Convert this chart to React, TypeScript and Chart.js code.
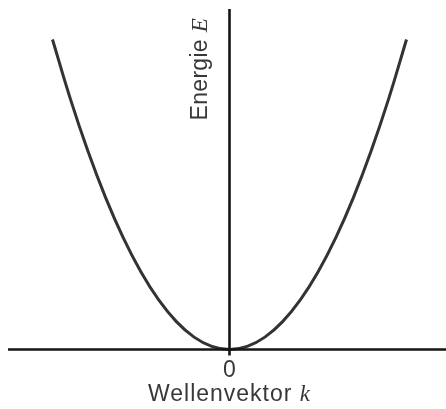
import React, { useEffect, useRef } from "react";
import { Chart, registerables } from "chart.js";

Chart.register(...registerables);

// Wave vector k and energy E along the dispersion curve
const waveVector = [-1.0, -0.9, -0.8, -0.7, -0.6, -0.5, -0.4, -0.3, -0.2, -0.1, 0.0, 0.1, 0.2, 0.3, 0.4, 0.5, 0.6, 0.7, 0.8, 0.9, 1.0];
const energy = [1.0, 0.81, 0.64, 0.49, 0.36, 0.25, 0.16, 0.09, 0.04, 0.01, 0.0, 0.01, 0.04, 0.09, 0.16, 0.25, 0.36, 0.49, 0.64, 0.81, 1.0];

const originTick = "0";
const xTitle = "Wellenvektor ";
const xSymbol = "k";
const yTitle = "Energie ";
const ySymbol = "E";

const X_MIN = -1.2514;
const X_MAX = 1.2232;
const Y_MIN = -0.1919;
const Y_MAX = 1.1016;

const SANS = "23px 'Liberation Sans', Arial, sans-serif";
const SYMBOL = "italic 23px 'Liberation Serif', 'Times New Roman', serif";

const axesPlugin = {
  id: "originAxes",
  afterDatasetsDraw(chart: any) {
    const { ctx, chartArea, scales } = chart;
    const ox = scales.x.getPixelForValue(0);
    const oy = scales.y.getPixelForValue(0);
    ctx.save();
    ctx.strokeStyle = "#151515";
    ctx.lineWidth = 2.6;
    ctx.lineCap = "butt";
    ctx.beginPath();
    ctx.moveTo(chartArea.left, oy);
    ctx.lineTo(chart.width, oy);
    ctx.moveTo(ox, chartArea.top + 1);
    ctx.lineTo(ox, oy + 6);
    ctx.stroke();

    ctx.fillStyle = "#383838";
    ctx.textBaseline = "alphabetic";

    // tick label at the origin
    ctx.font = SANS;
    ctx.textAlign = "center";
    ctx.fillText(originTick, ox, oy + 27);

    // horizontal axis title, centred under the origin
    (ctx as any).letterSpacing = "1px";
    ctx.textAlign = "left";
    ctx.font = SANS;
    const w1 = ctx.measureText(xTitle).width;
    ctx.font = SYMBOL;
    const w2 = ctx.measureText(xSymbol).width;
    const sx = ox - (w1 + w2) / 2;
    ctx.font = SANS;
    ctx.fillText(xTitle, sx, oy + 51);
    ctx.font = SYMBOL;
    ctx.fillText(xSymbol, sx + w1, oy + 51);
    (ctx as any).letterSpacing = "0.3px";

    // vertical axis title, rotated, at the top left of the axis
    ctx.translate(ox - 22, chartArea.top + 10);
    ctx.rotate(-Math.PI / 2);
    ctx.font = SANS;
    const v1 = ctx.measureText(yTitle).width;
    ctx.font = SYMBOL;
    const v2 = ctx.measureText(ySymbol).width;
    const start = -(v1 + v2);
    ctx.font = SANS;
    ctx.fillText(yTitle, start, 0);
    ctx.font = SYMBOL;
    ctx.fillText(ySymbol, start + v1, 0);
    ctx.restore();
  },
};

export default function App() {
  const ref = useRef<HTMLCanvasElement | null>(null);

  useEffect(() => {
    document.body.style.overflow = "hidden";
    const canvas = ref.current;
    if (!canvas) return;
    const chart = new Chart(canvas, {
      type: "line",
      data: {
        datasets: [
          {
            data: waveVector.map((k, i) => ({ x: k, y: energy[i] })),
            borderColor: "#333333",
            borderWidth: 3,
            pointRadius: 0,
            tension: 0.4,
            fill: false,
          },
        ],
      },
      options: {
        animation: false,
        responsive: false,
        maintainAspectRatio: false,
        layout: { padding: { left: 8, top: 8, right: 0, bottom: 0 } },
        plugins: { legend: { display: false }, tooltip: { enabled: false } },
        scales: {
          x: { type: "linear", min: X_MIN, max: X_MAX, display: false },
          y: { type: "linear", min: Y_MIN, max: Y_MAX, display: false },
        },
      },
      plugins: [axesPlugin],
    });
    return () => chart.destroy();
  }, []);

  return (
    <div style={{ position: "fixed", left: 0, top: 0, width: 446, height: 409 }}>
      <canvas ref={ref} width={446} height={409} style={{ display: "block", width: 446, height: 409 }} />
    </div>
  );
}
